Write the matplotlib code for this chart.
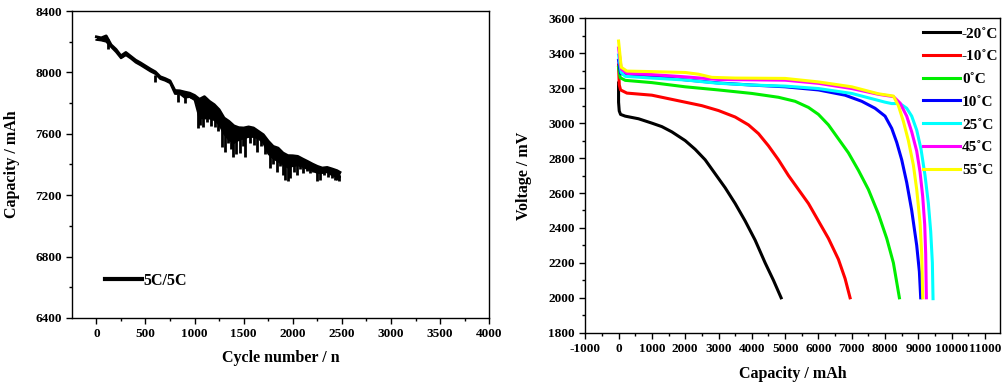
import matplotlib
matplotlib.use("Agg")
import matplotlib.pyplot as plt
from matplotlib.ticker import MultipleLocator
from matplotlib.lines import Line2D

plt.rcParams['font.family'] = ['Liberation Serif', 'DejaVu Serif']
plt.rcParams['font.weight'] = 'bold'
plt.rcParams['axes.unicode_minus'] = False

# ---------------- Left panel data: cycle life 5C/5C ----------------
cycles = [0, 50, 100, 150, 200, 250, 300, 350, 400, 450, 500, 550, 600, 650, 700,
          750, 800, 850, 900, 950, 1000, 1050, 1100, 1150, 1200, 1250, 1300, 1350,
          1400, 1450, 1500, 1550, 1600, 1650, 1700, 1750, 1800, 1850, 1900, 1950,
          2000, 2050, 2100, 2150, 2200, 2250, 2300, 2350, 2400, 2450, 2480]
cap_upper = [8232, 8225, 8238, 8180, 8150, 8108, 8130, 8105, 8080, 8062, 8042, 8022,
             8004, 7972, 7960, 7945, 7882, 7880, 7872, 7865, 7850, 7825, 7842, 7812,
             7790, 7757, 7703, 7681, 7652, 7640, 7638, 7645, 7638, 7616, 7594, 7552,
             7518, 7507, 7475, 7458, 7457, 7453, 7436, 7420, 7403, 7388, 7377, 7381,
             7371, 7360, 7349]
cap_lower = [8212, 8208, 8200, 8165, 8132, 8092, 8112, 8090, 8064, 8046, 8026, 8006,
             7990, 7957, 7946, 7930, 7860, 7860, 7835, 7840, 7820, 7700, 7700, 7700,
             7690, 7660, 7600, 7560, 7540, 7560, 7570, 7580, 7580, 7570, 7540, 7470,
             7440, 7420, 7400, 7380, 7390, 7395, 7385, 7370, 7360, 7345, 7345, 7350,
             7330, 7320, 7318]
dip_cycles = [120, 600, 830, 900, 960, 1039, 1060, 1090, 1130, 1170, 1209, 1240, 1277,
              1311, 1340, 1370, 1395, 1420, 1463, 1490, 1514, 1560, 1600, 1633, 1680,
              1720, 1769, 1800, 1837, 1870, 1900, 1922, 1950, 1973, 2010, 2041, 2075,
              2108, 2140, 2176, 2210, 2250, 2280, 2320, 2360, 2400, 2430, 2450, 2470]
dip_values = [8150, 7940, 7810, 7800, 7830, 7636, 7660, 7647, 7680, 7650, 7647, 7620,
              7516, 7484, 7540, 7500, 7451, 7470, 7473, 7520, 7451, 7540, 7530, 7484,
              7520, 7470, 7375, 7400, 7353, 7390, 7330, 7299, 7290, 7310, 7350, 7331,
              7370, 7342, 7360, 7342, 7350, 7290, 7300, 7330, 7320, 7310, 7300, 7299,
              7292]

# ---------------- Right panel data: discharge curves ----------------
temps = ['-20˚C', '-10˚C', '0˚C', '10˚C', '25˚C', '45˚C', '55˚C']
colors = ['#000000', '#ff0000', '#00ee00', '#0000ff', '#00ffff', '#ff00ff', '#ffff00']

cap_m20 = [0, 0, 20, 60, 200, 600, 1000, 1300, 1600, 2000, 2300, 2600, 2900, 3200,
           3500, 3800, 4100, 4400, 4650, 4880]
v_m20 = [3230, 3120, 3070, 3050, 3040, 3025, 3000, 2980, 2950, 2900, 2850, 2790, 2710,
         2630, 2540, 2440, 2330, 2200, 2100, 2000]

cap_m10 = [0, 20, 60, 250, 1000, 1500, 2000, 2500, 3000, 3500, 3900, 4200, 4500, 4800,
           5100, 5400, 5700, 6000, 6300, 6600, 6800, 6950]
v_m10 = [3333, 3220, 3190, 3172, 3160, 3140, 3120, 3100, 3072, 3035, 2990, 2940, 2870,
         2790, 2700, 2620, 2540, 2440, 2340, 2220, 2110, 2000]

cap_0 = [0, 50, 200, 1000, 2000, 3000, 4000, 4800, 5300, 5700, 6000, 6300, 6600, 6900,
         7200, 7500, 7800, 8050, 8250, 8430]
v_0 = [3320, 3260, 3245, 3232, 3208, 3190, 3170, 3148, 3125, 3090, 3050, 2990, 2910,
       2830, 2730, 2620, 2480, 2340, 2200, 2000]

cap_10 = [0, 60, 300, 1000, 2000, 3000, 4000, 5000, 6000, 6800, 7300, 7700, 8000, 8200,
          8350, 8500, 8650, 8800, 8950, 9030, 9070]
v_10 = [3360, 3285, 3272, 3268, 3248, 3230, 3218, 3208, 3190, 3160, 3125, 3085, 3040,
        2970, 2890, 2790, 2660, 2500, 2300, 2150, 2000]

cap_25 = [0, 80, 200, 1000, 2000, 3000, 4000, 5000, 6000, 7000, 7600, 8000, 8200, 8450,
          8650, 8800, 8950, 9080, 9200, 9300, 9370, 9420, 9440]
v_25 = [3390, 3290, 3268, 3258, 3247, 3228, 3218, 3212, 3198, 3170, 3140, 3120, 3112,
        3112, 3085, 3040, 2960, 2850, 2700, 2540, 2380, 2200, 1995]

cap_45 = [0, 80, 250, 1000, 2000, 3000, 4000, 5000, 6000, 7000, 7800, 8250, 8450, 8650,
          8800, 8950, 9050, 9130, 9190, 9220, 9240]
v_45 = [3430, 3310, 3285, 3278, 3265, 3250, 3248, 3246, 3228, 3198, 3165, 3152, 3115,
        3040, 2950, 2840, 2720, 2580, 2420, 2250, 2000]

cap_55 = [0, 80, 250, 1000, 2000, 2400, 2800, 3500, 5000, 6000, 7000, 7800, 8250, 8400,
          8550, 8700, 8850, 8950, 9050, 9100, 9130]
v_55 = [3470, 3320, 3298, 3295, 3290, 3280, 3262, 3258, 3256, 3236, 3208, 3168, 3155,
        3100, 3010, 2900, 2760, 2620, 2430, 2250, 2000]

curves = [(cap_m20, v_m20), (cap_m10, v_m10), (cap_0, v_0), (cap_10, v_10),
          (cap_25, v_25), (cap_45, v_45), (cap_55, v_55)]

# ---------------- Figure ----------------
W, H = 1003, 386
fig = plt.figure(figsize=(W / 100, H / 100), dpi=100)
ax1 = fig.add_axes([0.0721, 0.1762, 0.4157, 0.7953])
ax2 = fig.add_axes([0.5835, 0.138, 0.4135, 0.8145])

# Left panel
ax1.fill_between(cycles, cap_lower, cap_upper, color='black', lw=0)
ax1.plot(cycles, cap_upper, color='black', lw=2.0, solid_joinstyle='round')
ax1.plot(cycles, cap_lower, color='black', lw=1.4, solid_joinstyle='round')
dip_tops = [cap_upper[min(range(len(cycles)), key=lambda i: abs(cycles[i] - d))] - 20
            for d in dip_cycles]
ax1.vlines(dip_cycles, dip_tops, dip_values, color='black', lw=2.0)
ax1.set_xlim(-245, 4000)
ax1.set_ylim(6400, 8400)
ax1.xaxis.set_major_locator(MultipleLocator(500))
ax1.xaxis.set_minor_locator(MultipleLocator(250))
ax1.yaxis.set_major_locator(MultipleLocator(400))
ax1.yaxis.set_minor_locator(MultipleLocator(200))
ax1.set_xlabel('Cycle number / n', fontsize=11.5, fontweight='bold', labelpad=7)
ax1.set_ylabel('Capacity / mAh', fontsize=11.5, fontweight='bold', labelpad=11)
leg_h1 = [Line2D([], [], color='black', lw=3.0)]
ax1.legend(leg_h1, ['5C/5C'], loc='center left',
           bbox_to_anchor=(105 / W, 1 - 280.7 / H), bbox_transform=fig.transFigure,
           frameon=False, handlelength=2.3, handletextpad=0.1, borderpad=0,
           borderaxespad=0, prop={'weight': 'bold', 'size': 11.5})

# Right panel
for (c, v), col, lab in zip(curves, colors, temps):
    ax2.plot(c, v, color=col, lw=2.2, label=lab)
ax2.set_xlim(-1000, 11450)
ax2.set_ylim(1800, 3600)
ax2.xaxis.set_major_locator(MultipleLocator(1000))
ax2.xaxis.set_minor_locator(MultipleLocator(500))
ax2.yaxis.set_major_locator(MultipleLocator(200))
ax2.yaxis.set_minor_locator(MultipleLocator(100))
ax2.set_xlabel('Capacity / mAh', fontsize=11.5, fontweight='bold', labelpad=8)
ax2.set_ylabel('Voltage / mV', fontsize=11.5, fontweight='bold', labelpad=12)
ax2.legend(loc='upper left', bbox_to_anchor=(923 / W, 1 - 27 / H),
           bbox_transform=fig.transFigure, frameon=False, borderpad=0,
           borderaxespad=0, handlelength=2.4, handletextpad=0.15, labelspacing=0.59,
           prop={'weight': 'bold', 'size': 11})

for ax in (ax1, ax2):
    for sp in ax.spines.values():
        sp.set_linewidth(1.0)
    ax.tick_params(which='major', direction='out', length=4, width=1, labelsize=9.5)
    ax.tick_params(which='minor', direction='out', length=2.5, width=1)
    for lbl in ax.get_xticklabels() + ax.get_yticklabels():
        lbl.set_fontweight('bold')

fig.savefig('out.png', dpi=100)
